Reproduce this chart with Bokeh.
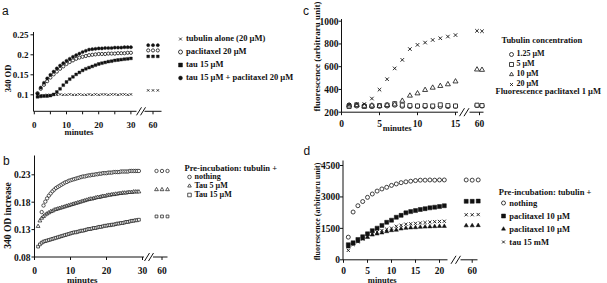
import numpy as np
from bokeh.plotting import figure
from bokeh.models import Range1d, Legend, LegendItem
from bokeh.core.properties import value
from bokeh.layouts import column, row
from bokeh.embed import file_html
from bokeh.resources import INLINE

SERIF = "Liberation Serif"
SANS = "Liberation Sans"
INK = "#111111"

# ---------------- data : panel a (340 OD vs minutes) ----------------
a_t = list(range(1, 31))
a_t60 = [59, 60, 61]
a_tubulin = [0.098, 0.099, 0.098, 0.100, 0.099, 0.100, 0.100, 0.101, 0.100, 0.100,
             0.101, 0.100, 0.100, 0.101, 0.100, 0.100, 0.101, 0.100, 0.101, 0.100,
             0.101, 0.101, 0.100, 0.101, 0.101, 0.100, 0.101, 0.101, 0.100, 0.101]
a_tubulin60 = [0.111, 0.111, 0.111]
a_paclitaxel = [0.104, 0.115, 0.125, 0.134, 0.143, 0.151, 0.158, 0.165, 0.171, 0.177,
                0.182, 0.186, 0.190, 0.193, 0.195, 0.197, 0.199, 0.200, 0.201, 0.202,
                0.202, 0.202, 0.203, 0.203, 0.203, 0.204, 0.204, 0.204, 0.205, 0.205]
a_paclitaxel60 = [0.211, 0.211, 0.211]
a_tau = [0.095, 0.096, 0.097, 0.097, 0.098, 0.101, 0.107, 0.115, 0.124, 0.132,
         0.139, 0.145, 0.151, 0.156, 0.161, 0.165, 0.168, 0.171, 0.174, 0.177,
         0.179, 0.181, 0.183, 0.184, 0.186, 0.187, 0.188, 0.189, 0.190, 0.191]
a_tau60 = [0.196, 0.196, 0.196]
a_tau_pac = [0.103, 0.118, 0.130, 0.141, 0.150, 0.158, 0.166, 0.173, 0.179, 0.185,
             0.190, 0.195, 0.199, 0.203, 0.207, 0.210, 0.213, 0.214, 0.215, 0.216,
             0.216, 0.217, 0.217, 0.217, 0.218, 0.218, 0.218, 0.219, 0.219, 0.219]
a_tau_pac60 = [0.224, 0.224, 0.224]
a_labels = ["tubulin alone (20 \u00b5M)", "paclitaxel 20 \u00b5M", "tau 15 \u00b5M",
            "tau 15 \u00b5M + paclitaxel 20 \u00b5M"]
a_yticks = [0.1, 0.15, 0.2, 0.25]
a_ytick_labels = ["0.1", "0.15", "0.2", "0.25"]
a_xticks = [0, 10, 20, 30, 60]
a_xtick_labels = ["0", "10", "20", "30", "60"]
a_xminor = [5, 15, 25]

# ---------------- data : panel b (340 OD increase) ----------------
b_nothing = [0.162, 0.174, 0.181, 0.187, 0.192, 0.196, 0.200, 0.203, 0.206, 0.208,
             0.210, 0.212, 0.214, 0.216, 0.217, 0.219, 0.220, 0.221, 0.222, 0.223,
             0.224, 0.225, 0.226, 0.227, 0.227, 0.228, 0.229, 0.229, 0.230, 0.230,
             0.231, 0.231, 0.232, 0.232, 0.233, 0.233, 0.233, 0.234, 0.234, 0.234,
             0.235, 0.235, 0.235, 0.235, 0.236, 0.236, 0.236, 0.236, 0.236, 0.237,
             0.237, 0.237, 0.237, 0.237, 0.237]
b_nothing_start = 2.0
b_tau5 = [0.136, 0.146, 0.151, 0.154, 0.157, 0.159, 0.161, 0.163, 0.164, 0.166,
          0.167, 0.168, 0.169, 0.170, 0.171, 0.172, 0.173, 0.174, 0.175, 0.176,
          0.177, 0.178, 0.179, 0.180, 0.181, 0.182, 0.183, 0.184, 0.185, 0.186,
          0.186, 0.187, 0.188, 0.189, 0.189, 0.190, 0.191, 0.191, 0.192, 0.193,
          0.193, 0.194, 0.194, 0.195, 0.195, 0.196, 0.196, 0.197, 0.197, 0.197,
          0.198, 0.198, 0.198, 0.199, 0.199, 0.199, 0.199]
b_tau15 = [0.099, 0.103, 0.106, 0.108, 0.109, 0.110, 0.111, 0.112, 0.113, 0.114,
           0.115, 0.116, 0.117, 0.118, 0.119, 0.120, 0.121, 0.122, 0.123, 0.124,
           0.125, 0.125, 0.126, 0.127, 0.128, 0.128, 0.129, 0.130, 0.131, 0.131,
           0.132, 0.133, 0.133, 0.134, 0.135, 0.135, 0.136, 0.137, 0.137, 0.138,
           0.138, 0.139, 0.139, 0.140, 0.141, 0.141, 0.142, 0.142, 0.143, 0.144,
           0.144, 0.145, 0.146, 0.146, 0.147, 0.147, 0.148]
b_tau_start = 1.0
b_step = 0.5
b_t60 = [59, 60, 61]
b_nothing60 = [0.237, 0.237, 0.237]
b_tau5_60 = [0.203, 0.203, 0.203]
b_tau15_60 = [0.154, 0.154, 0.154]
b_title = "Pre-incubation: tubulin +"
b_labels = ["nothing", "Tau 5 \u00b5M", "Tau 15 \u00b5M"]
b_yticks = [0.08, 0.13, 0.18, 0.23]
b_ytick_labels = ["0.08", "0.13", "0.18", "0.23"]
b_xticks = [0, 10, 20, 30, 60]
b_xtick_labels = ["0", "10", "20", "30", "60"]

# ---------------- data : panel c (fluorescence, tubulin concentration) ----------------
c_t = list(range(1, 16))
c_t60 = [59.5, 60.5]
c_125 = [262, 255, 258, 250, 252, 255, 262, 252, 250, 252, 250, 248, 250, 250, 252]
c_125_60 = [258, 255]
c_5 = [250, 262, 250, 255, 258, 262, 275, 262, 258, 255, 258, 255, 265, 258, 255]
c_5_60 = [262, 258]
c_10 = [258, 262, 255, 258, 255, 262, 268, 300, 345, 365, 395, 415, 430, 445, 470]
c_10_60 = [575, 572]
c_20 = [265, 272, 272, 320, 398, 490, 585, 660, 755, 792, 812, 835, 850, 865, 878]
c_20_60 = [915, 912]
c_title = "Tubulin concentration"
c_footer = "Fluorescence paclitaxel 1 \u00b5M"
c_labels = ["1.25 \u00b5M", "5 \u00b5M", "10 \u00b5M", "20 \u00b5M"]
c_yticks = [200, 400, 600, 800, 1000]
c_ytick_labels = ["200", "400", "600", "800", "1000"]
c_xticks = [0, 5, 10, 15, 60]
c_xtick_labels = ["0", "5", "10", "15", "60"]

# ---------------- data : panel d (fluorescence, pre-incubation) ----------------
d_t = list(range(1, 22))
d_t60 = [59, 60, 61]
d_nothing = [1080, 2280, 2580, 2780, 2980, 3140, 3280, 3380, 3460, 3550, 3620,
             3680, 3720, 3750, 3780, 3800, 3800, 3810, 3800, 3810, 3810]
d_nothing60 = [3810, 3800, 3810]
d_pac1 = [720, 810, 970, 1100, 1240, 1390, 1510, 1640, 1790, 1890, 2030,
          2120, 2240, 2300, 2350, 2400, 2440, 2480, 2510, 2540, 2580]
d_pac1_60 = [2790, 2790, 2800]
d_pac2 = [620, 760, 880, 1000, 1080, 1190, 1240, 1290, 1350, 1400, 1420,
          1480, 1510, 1530, 1540, 1560, 1570, 1580, 1590, 1600, 1600]
d_pac2_60 = [1630, 1630, 1640]
d_tau = [450, 730, 860, 990, 1110, 1230, 1330, 1400, 1460, 1510, 1600,
         1650, 1700, 1720, 1740, 1760, 1780, 1800, 1820, 1830, 1840]
d_tau60 = [2150, 2150, 2160]
d_title = "Pre-incubation: tubulin +"
d_labels = ["nothing", "paclitaxel 10 \u00b5M", "paclitaxel 10 \u00b5M", "tau 15 mM"]
d_yticks = [0, 1500, 3000, 4500]
d_ytick_labels = ["0", "1500", "3000", "4500"]
d_xticks = [0, 5, 10, 15, 20, 60]
d_xtick_labels = ["0", "5", "10", "15", "20", "60"]


class Frame:
    """pixel geometry of one panel (panel-local pixels, y downwards)"""
    def __init__(self, W, H, x0, kx, y0, v0, ky, x60, step60):
        self.W, self.H = W, H
        self.x0, self.kx, self.y0, self.v0, self.ky = x0, kx, y0, v0, ky
        self.x60, self.step60 = x60, step60

    def X(self, px):
        return (px - self.x0) / self.kx

    def Y(self, py):
        return self.v0 + (self.y0 - py) / self.ky

    def bx(self, t):
        if t < 45:
            return t
        return self.X(self.x60 + (t - 60) * self.step60)

    def bxs(self, ts):
        return [self.bx(t) for t in ts]


def make_fig(f):
    p = figure(width=f.W, height=f.H,
               x_range=Range1d(f.X(0), f.X(f.W)), y_range=Range1d(f.Y(f.H), f.Y(0)),
               output_backend="svg", toolbar_location=None, title=None,
               x_axis_location=None, y_axis_location=None,
               min_border_left=0, min_border_right=0, min_border_top=0,
               min_border_bottom=0)
    p.outline_line_color = None
    p.grid.visible = False
    p.background_fill_color = "white"
    p.border_fill_color = "white"
    return p


def add_text(p, f, pxs, pys, texts, size, font=SERIF, style="bold", angle=0.0,
             align="center", baseline="middle", data_x=None, data_y=None):
    xs = data_x if data_x is not None else [f.X(v) for v in pxs]
    ys = data_y if data_y is not None else [f.Y(v) for v in pys]
    p.text(x=xs, y=ys, text=texts, text_font=value(font), text_font_style=style,
           text_font_size=value(size), text_color=INK, text_align=align,
           text_baseline=baseline, angle=angle)


def draw_axes(p, f, yax, ytop, xax, pieces, breaks, yt, ytl, xt, xtl, minor,
              ylab_right, xlab_base, tick_font):
    p.segment(x0=[f.X(yax)], y0=[f.Y(xax)], x1=[f.X(yax)], y1=[f.Y(ytop)],
              line_color=INK, line_width=1)
    p.segment(x0=[f.X(a) for a, b in pieces], y0=[f.Y(xax)] * len(pieces),
              x1=[f.X(b) for a, b in pieces], y1=[f.Y(xax)] * len(pieces),
              line_color=INK, line_width=1)
    p.segment(x0=[f.X(yax)] * len(yt), y0=yt, x1=[f.X(yax - 3)] * len(yt), y1=yt,
              line_color=INK, line_width=1)
    xs = f.bxs(xt) + list(minor)
    p.segment(x0=xs, y0=[f.Y(xax)] * len(xs), x1=xs, y1=[f.Y(xax + 3)] * len(xs),
              line_color=INK, line_width=1)
    p.segment(x0=[f.X(c - 2.5) for c in breaks], y0=[f.Y(xax + 4)] * len(breaks),
              x1=[f.X(c + 2.5) for c in breaks], y1=[f.Y(xax - 4)] * len(breaks),
              line_color=INK, line_width=1)
    add_text(p, f, None, None, ytl, tick_font, align="right", baseline="middle",
             data_x=[f.X(ylab_right)] * len(yt), data_y=yt)
    add_text(p, f, None, None, xtl, tick_font, align="center", baseline="alphabetic",
             data_x=f.bxs(xt), data_y=[f.Y(xlab_base)] * len(xt))


def add_legend(p, f, entries, box_left, first_center, pitch_est, label_h, font_px,
               standoff=1, glyph_w=10):
    items = [LegendItem(label=lab, renderers=[r]) for lab, r in entries]
    n = len(items)
    bottom = first_center - pitch_est / 2.0 + n * pitch_est
    leg = Legend(items=items, location=(box_left, f.H - bottom),
                 orientation="vertical", padding=0, margin=0, spacing=0,
                 glyph_width=glyph_w, glyph_height=label_h, label_height=label_h,
                 label_standoff=standoff,
                 label_text_font=SERIF, label_text_font_style="bold",
                 label_text_font_size="%spx" % font_px, label_text_color=INK,
                 border_line_color=None, background_fill_alpha=0.0)
    p.add_layout(leg)


# ================= panel a =================
A = Frame(300, 140, x0=33.8, kx=3.22, y0=94.3, v0=0.1, ky=400, x60=152.5, step60=4.8)
pa = make_fig(A)
draw_axes(pa, A, yax=33, ytop=31.5, xax=110.8, pieces=[(33, 136), (144, 161)],
          breaks=[138.5, 142.5], yt=a_yticks, ytl=a_ytick_labels, xt=a_xticks,
          xtl=a_xtick_labels, minor=a_xminor, ylab_right=28, xlab_base=124.3,
          tick_font="9px")
ra1 = pa.scatter(a_t + A.bxs(a_t60), a_tubulin + a_tubulin60, marker="x", size=3.4,
                 line_color=INK, line_width=0.8)
ra2 = pa.scatter(a_t + A.bxs(a_t60), a_paclitaxel + a_paclitaxel60, marker="circle",
                 size=3.2, line_color=INK, fill_color="white", line_width=0.8)
ra3 = pa.scatter(a_t + A.bxs(a_t60), a_tau + a_tau60, marker="square", size=2.8,
                 line_color=INK, fill_color=INK, line_width=0.4)
ra4 = pa.scatter(a_t + A.bxs(a_t60), a_tau_pac + a_tau_pac60, marker="circle", size=3.2,
                 line_color=INK, fill_color=INK, line_width=0.4)
add_legend(pa, A, list(zip(a_labels, [ra1, ra2, ra3, ra4])), box_left=175,
           first_center=38, pitch_est=13, label_h=13, font_px=8.5)
add_text(pa, A, [1.5], [10.5], ["a"], "12px", font=SANS, style="normal", align="left",
         baseline="alphabetic")
add_text(pa, A, [7], [78], ["340 OD"], "8.5px", angle=np.pi / 2)
add_text(pa, A, [78.5], [131], ["minutes"], "8.5px", baseline="alphabetic")

# ================= panel b =================
B = Frame(300, 143, x0=34, kx=3.6, y0=34.3, v0=0.23, ky=548, x60=161.5, step60=5.5)
pb = make_fig(B)
draw_axes(pb, B, yax=34, ytop=15, xax=116.5, pieces=[(34, 143.5), (152.5, 167)],
          breaks=[146.5, 150.5], yt=b_yticks, ytl=b_ytick_labels, xt=b_xticks,
          xtl=b_xtick_labels, minor=[], ylab_right=30, xlab_base=129.5,
          tick_font="9.5px")
bt_n = [b_nothing_start + b_step * i for i in range(len(b_nothing))]
bt_5 = [b_tau_start + b_step * i for i in range(len(b_tau5))]
bt_15 = [b_tau_start + b_step * i for i in range(len(b_tau15))]
rb1 = pb.scatter(bt_n + B.bxs(b_t60), b_nothing + b_nothing60, marker="circle", size=3.4,
                 line_color=INK, fill_color="white", line_width=0.7)
rb2 = pb.scatter(bt_5 + B.bxs(b_t60), b_tau5 + b_tau5_60, marker="triangle", size=3.8,
                 line_color=INK, fill_color="white", line_width=0.7)
rb3 = pb.scatter(bt_15 + B.bxs(b_t60), b_tau15 + b_tau15_60, marker="square", size=2.8,
                 line_color=INK, fill_color="white", line_width=0.7)
add_text(pb, B, [184], [27.5], [b_title], "8.5px", align="left")
add_legend(pb, B, list(zip(b_labels, [rb1, rb2, rb3])), box_left=183.5,
           first_center=35, pitch_est=9.4, label_h=9, font_px=8)
add_text(pb, B, [2.5], [20], ["b"], "12px", font=SANS, style="normal", align="left",
         baseline="alphabetic")
add_text(pb, B, [7], [75], ["340 OD increase"], "9.5px", angle=np.pi / 2)
add_text(pb, B, [81.7], [139], ["minutes"], "9px", baseline="alphabetic")

# ================= panel c =================
C = Frame(307, 140, x0=41, kx=7.6, y0=111.7, v0=200, ky=0.11375, x60=179, step60=5)
pc = make_fig(C)
draw_axes(pc, C, yax=41, ytop=18.5, xax=111.7, pieces=[(41, 157.5), (169, 183)],
          breaks=[161.5, 166], yt=c_yticks, ytl=c_ytick_labels, xt=c_xticks,
          xtl=c_xtick_labels, minor=[], ylab_right=38, xlab_base=122.5,
          tick_font="9.5px")
rc1 = pc.scatter(c_t + C.bxs(c_t60), c_125 + c_125_60, marker="circle", size=4.2,
                 line_color=INK, fill_color="white", line_width=0.8)
rc2 = pc.scatter(c_t + C.bxs(c_t60), c_5 + c_5_60, marker="square", size=4.0,
                 line_color=INK, fill_color="white", line_width=0.8)
rc3 = pc.scatter(c_t + C.bxs(c_t60), c_10 + c_10_60, marker="triangle", size=5.0,
                 line_color=INK, fill_color="white", line_width=0.8)
rc4 = pc.scatter(c_t + C.bxs(c_t60), c_20 + c_20_60, marker="x", size=5.0,
                 line_color=INK, line_width=0.9)
add_text(pc, C, [201], [39], [c_title], "8.5px", align="left")
add_legend(pc, C, list(zip(c_labels, [rc1, rc2, rc3, rc4])), box_left=205.5,
           first_center=53.5, pitch_est=10, label_h=10, font_px=8)
add_text(pc, C, [195], [90], [c_footer], "8.5px", align="left")
add_text(pc, C, [2.5], [10], ["c"], "12px", font=SANS, style="normal", align="left",
         baseline="alphabetic")
add_text(pc, C, [16.5], [56], ["fluorescence (arbitraru unit)"], "9px", angle=np.pi / 2)
add_text(pc, C, [96.7], [127], ["minutes"], "8.5px", baseline="alphabetic")

# ================= panel d =================
D = Frame(307, 143, x0=43, kx=4.8, y0=119.3, v0=0, ky=0.020956, x60=171.7, step60=6)
pd_ = make_fig(D)
draw_axes(pd_, D, yax=42.5, ytop=20, xax=119.3, pieces=[(42.5, 147), (160, 177)],
          breaks=[153, 157.5], yt=d_yticks, ytl=d_ytick_labels, xt=d_xticks,
          xtl=d_xtick_labels, minor=[], ylab_right=39.5, xlab_base=129.5,
          tick_font="9.5px")
rd1 = pd_.scatter(d_t + D.bxs(d_t60), d_nothing + d_nothing60, marker="circle", size=4.0,
                  line_color=INK, fill_color="white", line_width=0.8)
rd2 = pd_.scatter(d_t + D.bxs(d_t60), d_pac1 + d_pac1_60, marker="square", size=4.0,
                  line_color=INK, fill_color=INK, line_width=0.5)
rd3 = pd_.scatter(d_t + D.bxs(d_t60), d_pac2 + d_pac2_60, marker="triangle", size=4.2,
                  line_color=INK, fill_color=INK, line_width=0.5)
rd4 = pd_.scatter(d_t + D.bxs(d_t60), d_tau + d_tau60, marker="x", size=4.5,
                  line_color=INK, line_width=0.9)
add_text(pd_, D, [198.3], [51.7], [d_title], "8.5px", align="left")
add_legend(pd_, D, list(zip(d_labels, [rd1, rd2, rd3, rd4])), box_left=198.3,
           first_center=62.5, pitch_est=13, label_h=13, font_px=8.5)
add_text(pd_, D, [3], [10], ["d"], "12px", font=SANS, style="normal", align="left",
         baseline="alphabetic")
add_text(pd_, D, [16.5], [71], ["fluorescence (arbitraru unit)"], "8px", angle=np.pi / 2)
add_text(pd_, D, [81.7], [139], ["minutes"], "8.5px", baseline="alphabetic")

layout = column(row(pa, pc), row(pb, pd_))
open("out.html", "w").write(file_html(layout, INLINE))
